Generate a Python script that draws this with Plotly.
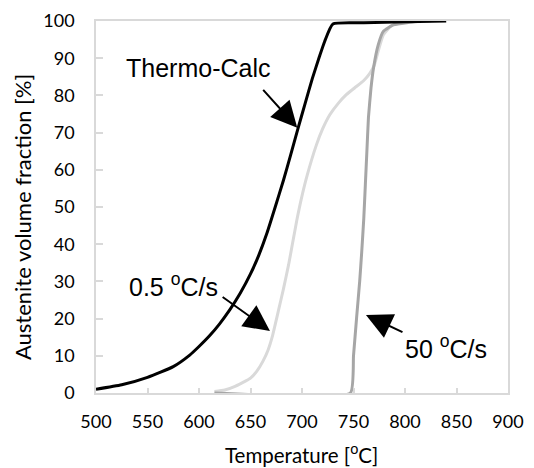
import plotly.graph_objects as go

# Thermo-Calc equilibrium curve
tc_temp = [500, 525, 550, 575, 591, 600, 610, 620, 630, 640, 650, 658, 666, 674, 682,
           689, 696, 703, 710, 717, 722, 730, 760, 800, 840]
tc_frac = [1.0, 2.2, 4.2, 7.1, 10.2, 12.5, 15.3, 18.6, 22.4, 26.8, 32.0, 37.0, 43.0, 50.0, 57.2,
           64.0, 71.0, 77.8, 84.5, 90.5, 94.5, 99.2, 99.5, 99.8, 100.0]

# 0.5 oC/s heating
slow_temp = [615, 625, 635, 645, 650, 656, 662, 667, 671, 677, 682, 687, 691, 695, 700, 705,
             714, 720, 727, 735, 743, 751, 760, 766, 770, 774, 779, 786, 797, 810, 825]
slow_frac = [0.4, 0.8, 1.8, 3.2, 4.0, 5.8, 8.5, 11.5, 15.0, 22.0, 28.0, 34.5, 40.5, 46.5, 53.0, 58.5,
             66.7, 71.0, 74.8, 77.8, 80.2, 82.0, 84.0, 86.0, 88.0, 91.9, 96.3, 98.5, 99.5, 99.8, 100.0]

# 50 oC/s heating
fast_temp = [615, 747, 750, 753, 756, 758, 760, 761.5, 763, 764.5, 767, 769.5, 774, 779, 789, 803, 815]
fast_frac = [0.0, 0.0, 10.0, 20.2, 30.0, 38.0, 47.0, 56.0, 65.0, 74.0, 82.0, 87.5, 93.6, 97.2, 99.0, 99.6, 100.0]

x_ticks = [500, 550, 600, 650, 700, 750, 800, 850, 900]
y_ticks = [0, 10, 20, 30, 40, 50, 60, 70, 80, 90, 100]

# labels: text, text position (T, f), arrow tail (T, f), arrow tip (T, f)
label_texts = ["Thermo-Calc", "0.5 <sup>o</sup>C/s", "50 <sup>o</sup>C/s"]
label_pos = [(599, 87.3), (575, 28.9), (840, 12.3)]
arrow_tail = [(661, 81.9), (621.5, 26.1), (799, 16.2)]
arrow_tip = [(695.4, 71.3), (668.9, 16.7), (762.1, 21.0)]

fig = go.Figure()
fig.add_trace(go.Scatter(x=slow_temp, y=slow_frac, mode="lines",
                         line=dict(color="#d9d9d9", width=3, shape="spline", smoothing=0.5)))
fig.add_trace(go.Scatter(x=fast_temp, y=fast_frac, mode="lines",
                         line=dict(color="#a6a6a6", width=3, shape="spline", smoothing=0.4)))
fig.add_trace(go.Scatter(x=tc_temp, y=tc_frac, mode="lines",
                         line=dict(color="#000000", width=3, shape="spline", smoothing=0.5)))

tick_font = dict(family="Lato, sans-serif", size=18, color="#000000")
axis_common = dict(showgrid=False, zeroline=False, showline=True, mirror=True,
                   linecolor="#d9d9d9", linewidth=1.5, ticks="inside", automargin=False,
                   tickcolor="#d9d9d9", tickwidth=1.5, tickfont=tick_font)

fig.update_xaxes(range=[500, 900], tickvals=x_ticks, ticklen=5, ticklabelstandoff=12, **axis_common)
fig.update_yaxes(range=[0, 100], tickvals=y_ticks, ticklen=7, ticklabelstandoff=16, **axis_common)

annots = []
for txt, (tx, ty) in zip(label_texts, label_pos):
    annots.append(dict(x=tx, y=ty, xref="x", yref="y", text=txt, showarrow=False,
                       xanchor="center", yanchor="middle",
                       font=dict(family="Liberation Sans, Arial, sans-serif", size=25, color="#000000")))
for (ax_, ay_), (x_, y_) in zip(arrow_tail, arrow_tip):
    annots.append(dict(x=x_, y=y_, ax=ax_, ay=ay_, xref="x", yref="y", axref="x", ayref="y",
                       text="", showarrow=True, arrowhead=2, arrowsize=2.6, arrowwidth=2,
                       arrowcolor="#000000", standoff=0, startstandoff=0))
annots.append(dict(x=0.499, y=-0.163, xref="paper", yref="paper", text="Temperature [<sup>o</sup>C]",
                   showarrow=False, xanchor="center", yanchor="middle",
                   font=dict(family="Lato, sans-serif", size=20.5, color="#000000")))
annots.append(dict(x=-0.178, y=0.472, xref="paper", yref="paper", text="Austenite volume fraction [%]",
                   showarrow=False, xanchor="center", yanchor="middle", textangle=-90,
                   font=dict(family="Lato, sans-serif", size=22, color="#000000")))

# the page body adds an 8px margin, so the figure is sized to fit the 534x468 window
fig.update_layout(width=526, height=460, margin=dict(l=88, r=26, t=13, b=75, autoexpand=False),
                  paper_bgcolor="white", plot_bgcolor="white", showlegend=False,
                  annotations=annots)

fig.write_html("out.html")
